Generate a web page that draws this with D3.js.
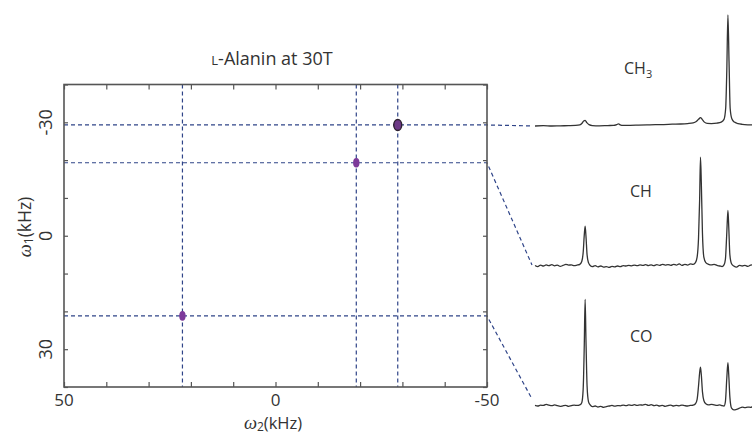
<!DOCTYPE html>
<html>
<head>
<meta charset="utf-8">
<script src="https://cdn.jsdelivr.net/npm/d3@7"></script>
<style>
  html, body { margin: 0; padding: 0; background: #fff; }
  svg { display: block; }
  text { font-family: "Open Sans", "DejaVu Sans", sans-serif; fill: #333; }
</style>
</head>
<body>
<svg id="chart" width="752" height="435"></svg>
<script>
// 2D correlation peaks (kHz)
const sites = ["CH3", "CH", "CO"];
const peakW2 = [-28.9, -19.1, 22.0];
const peakW1 = [-29.3, -19.3, 21.2];

// Axis ticks
const xTicks = [50, 40, 30, 20, 10, 0, -10, -20, -30, -40, -50];
const xLabels = [50, 0, -50];
const yTicks = [-40, -30, -20, -10, 0, 10, 20, 30, 40];
const yLabels = [-30, 0, 30];

// 1D slices along omega2: [omega2 (kHz), intensity]
const ch3Slice = [
  [40, 0], [37, 0.3], [34, 0], [31, 0.2], [28, 0.3], [25.5, 0.5], [24, 1], [23.2, 2.5], [22.6, 4.5],
  [22.1, 5], [21.5, 3], [20.7, 1.2], [19.5, 0.4], [17, 0.2], [14, 0.4], [12, 0.5], [10.8, 1.3],
  [10.2, 2], [9.6, 1], [8.5, 0.5], [6, 0.6], [3, 0.8], [0, 1], [-3, 1.2], [-6, 1.3], [-9, 1.6],
  [-12, 1.8], [-14.5, 2.2], [-16.5, 2.8], [-17.6, 4], [-18.4, 6], [-19.1, 7.5], [-19.7, 6],
  [-20.5, 3.5], [-21.5, 2.3], [-23, 2.2], [-25, 2.6], [-26.5, 3.5], [-27.5, 6], [-28.1, 16],
  [-28.5, 50], [-28.9, 100], [-29.3, 58], [-29.7, 16], [-30.3, 6.5], [-31.2, 3.5], [-32.5, 2.2],
  [-34, 1.5], [-36, 1.1], [-38, 1], [-40, 0.8]
];
const chSlice = [
  [40, 0.5], [39, -0.5], [38, 0.8], [37, 0], [36, 1], [35, 0.3], [34, 1.2], [33, 0.2], [32, 0.8],
  [31, -0.3], [30, 0.5], [29, 1.5], [28, 0.8], [27, 1], [26, 0.3], [25, 0.8], [24, 1.5],
  [23.3, 4], [22.8, 12], [22.4, 28], [22.1, 36], [21.8, 27], [21.4, 10], [20.9, 3], [20.3, 0.5],
  [19.5, -0.5], [18.5, 0.3], [17.5, -0.8], [16.5, 0], [15.5, -1], [14.5, -0.5], [13.5, -1.3],
  [12.5, -0.3], [11.5, -0.8], [10.5, 0], [9.5, -0.5], [8.5, 0.3], [7.5, 0], [6.5, 0.5], [5.5, 0.2],
  [4.5, 0.8], [3.5, 0.3], [2.5, 1], [1.5, 0.5], [0.5, 1.2], [-0.5, 0.4], [-1.5, 1], [-2.5, 0.3],
  [-3.5, 1.2], [-4.5, 0.6], [-5.5, 1.5], [-6.5, 0.8], [-7.5, 1.3], [-8.5, 0.6], [-9.5, 1.5],
  [-10.5, 0.8], [-11.5, 2], [-12.5, 0.5], [-13.5, 1.5], [-14.5, 0.8], [-15.5, 2], [-16.5, 1.5],
  [-17.3, 3], [-17.9, 8], [-18.4, 25], [-18.8, 60], [-19.1, 98], [-19.4, 75], [-19.8, 30],
  [-20.3, 8], [-21, 3], [-22, 1.5], [-23, 1], [-24, 1.5], [-25, 0.5], [-26, 0], [-26.8, -0.5],
  [-27.5, 1], [-28, 6], [-28.5, 30], [-28.9, 50], [-29.2, 35], [-29.6, 10], [-30.2, 2], [-31, 0],
  [-32, -1], [-33, 0.5], [-34, 0], [-35, 0.5], [-36, -0.3], [-37, 0.8], [-38, 1], [-39, 0], [-40, 0.5]
];
const coSlice = [
  [40, 0.5], [39, 0], [38, 0.8], [37, 0.5], [36, 1.5], [35, 0.8], [34, 0.3], [33, 1], [32, 0.3],
  [31, -0.3], [30, 0.2], [29, 0.5], [28, -0.3], [27, 0.3], [26, 0.8], [25, 0.5], [24, 1],
  [23.3, 3], [22.8, 15], [22.4, 55], [22.1, 96], [21.8, 60], [21.4, 18], [20.9, 4], [20.3, 1],
  [19.5, -0.5], [18.5, 0], [17.5, -1], [16.5, -0.3], [15.5, -1.2], [14.5, -0.5], [13.5, 0],
  [12.5, 0.5], [11.5, -0.2], [10.5, 0.3], [9.5, 0.2], [8.5, 0.8], [7.5, 0.3], [6.5, 1], [5.5, 0.5],
  [4.5, 1.2], [3.5, 0.5], [2.5, 1], [1.5, 0.8], [0.5, 1.5], [-0.5, 0.5], [-1.5, 1.2], [-2.5, 0.3],
  [-3.5, 0.8], [-4.5, 0], [-5.5, 0.5], [-6.5, -0.3], [-7.5, 0.3], [-8.5, 0.8], [-9.5, 0],
  [-10.5, 0.5], [-11.5, 0.2], [-12.5, 0.8], [-13.5, 0.3], [-14.5, 0], [-15.5, 0.5], [-16.5, 0.8],
  [-17.3, 2], [-17.9, 6], [-18.4, 18], [-18.8, 30], [-19.1, 35], [-19.4, 28], [-19.8, 13],
  [-20.3, 5], [-21, 2], [-22, 1], [-23, 1.5], [-24, 1], [-25, 0.5], [-26, 1], [-26.8, 0.3],
  [-27.5, 0], [-28, 4], [-28.5, 25], [-28.9, 39], [-29.2, 28], [-29.6, 8], [-30.2, -2],
  [-31, -3.5], [-32, -3], [-33, -2], [-34, -1], [-35, -1.5], [-36, -1], [-37, -1.2], [-38, -0.5],
  [-39, -1], [-40, -0.5]
];
const slices = [ch3Slice, chSlice, coSlice];

const svg = d3.select("#chart");
const dashColor = "#2f4488";
const frameColor = "#555";

// --- 2D contour panel ---
const plot = { left: 64, right: 487, top: 84.5, bottom: 387 };
const x = d3.scaleLinear().domain([50, -50]).range([plot.left, plot.right]);
const y = d3.scaleLinear().domain([-40, 40]).range([plot.top, plot.bottom]);

svg.append("text")
  .attr("x", 272).attr("y", 65).attr("text-anchor", "middle")
  .style("font-size", "18px")
  .call(t => {
    t.append("tspan").style("font-size", "13px").text("L");
    t.append("tspan").text("-Alanin at 30T");
  });

// tick marks pointing inwards on all four sides
const tickStyle = g => {
  g.select(".domain").remove();
  g.selectAll(".tick line").attr("stroke", frameColor).attr("stroke-width", 1.2);
  g.selectAll(".tick text").remove();
};
svg.append("g").attr("transform", `translate(0,${plot.bottom})`)
  .call(d3.axisBottom(x).tickValues(xTicks).tickSize(-5)).call(tickStyle);
svg.append("g").attr("transform", `translate(0,${plot.top})`)
  .call(d3.axisTop(x).tickValues(xTicks).tickSize(-5)).call(tickStyle);
svg.append("g").attr("transform", `translate(${plot.left},0)`)
  .call(d3.axisLeft(y).tickValues(yTicks).tickSize(-4)).call(tickStyle);
svg.append("g").attr("transform", `translate(${plot.right},0)`)
  .call(d3.axisRight(y).tickValues(yTicks).tickSize(-4)).call(tickStyle);

// tick labels
svg.append("g").selectAll("text").data(xLabels).join("text")
  .attr("x", d => x(d)).attr("y", 406).attr("text-anchor", "middle")
  .style("font-size", "17px").text(d => d);
svg.append("g").selectAll("text").data(yLabels).join("text")
  .attr("transform", d => `translate(52,${y(d)}) rotate(-90)`)
  .attr("text-anchor", "middle")
  .style("font-size", "18px").text(d => d);

// axis titles
const omegaLabel = (sel, sub) => {
  sel.append("tspan").style("font-family", "'Liberation Serif', 'DejaVu Serif', serif")
    .style("font-style", "italic").style("font-size", "18.5px").text("ω");
  sel.append("tspan").attr("dy", 2).style("font-size", "12px").text(sub);
  sel.append("tspan").attr("dy", -2).text("(kHz)");
};
svg.append("text").attr("x", 273).attr("y", 429).attr("text-anchor", "middle")
  .style("font-size", "16.5px").call(omegaLabel, "2");
svg.append("text").attr("transform", "translate(31,227) rotate(-90)").attr("text-anchor", "middle")
  .style("font-size", "17.5px").call(omegaLabel, "1");

// --- 1D slices on the right ---
const xs = d3.scaleLinear().domain([40, -40]).range([535, 759]);
const ys = d3.scaleLinear().domain([0, 100]).range([0, -111]);
const baselines = [126, 266, 406];
const sliceLabelPos = [[624, 74], [630, 197], [630, 342]];
const connectorEnd = [[533, 126], [532, 265], [532, 399]];

// guide lines through each peak
const guides = svg.append("g").attr("fill", "none").attr("stroke", dashColor)
  .attr("stroke-width", 1.2).attr("stroke-dasharray", "4,3");
peakW2.forEach(w => {
  guides.append("line").attr("x1", x(w)).attr("x2", x(w)).attr("y1", plot.top).attr("y2", plot.bottom);
});
peakW1.forEach((w, i) => {
  const pts = [[plot.left, y(w)], [plot.right, y(w)], connectorEnd[i]];
  guides.append("path").attr("d", d3.line()(pts));
});

// frame
svg.append("rect")
  .attr("x", plot.left).attr("y", plot.top)
  .attr("width", plot.right - plot.left).attr("height", plot.bottom - plot.top)
  .attr("fill", "none").attr("stroke", frameColor).attr("stroke-width", 1.6);

// cross peaks
svg.append("g").selectAll("ellipse").data(sites).join("ellipse")
  .attr("cx", (d, i) => x(peakW2[i])).attr("cy", (d, i) => y(peakW1[i]))
  .attr("rx", (d, i) => i === 0 ? 4 : 3.2).attr("ry", (d, i) => i === 0 ? 5.5 : 4.8)
  .attr("fill", (d, i) => i === 0 ? "#6e3a86" : "#7d3a9a")
  .attr("stroke", (d, i) => i === 0 ? "#2d2030" : "none").attr("stroke-width", 1.4);

const line = d3.line().x(d => xs(d[0])).y(d => ys(d[1])).curve(d3.curveMonotoneX);
slices.forEach((s, i) => {
  const g = svg.append("g").attr("transform", `translate(0,${baselines[i]})`);
  g.append("path").attr("d", line(s)).attr("fill", "none")
    .attr("stroke", "#333").attr("stroke-width", 1.3).attr("stroke-linejoin", "round");
});

// slice labels
sites.forEach((s, i) => {
  const t = svg.append("text").attr("x", sliceLabelPos[i][0]).attr("y", sliceLabelPos[i][1])
    .style("font-size", "16px");
  if (s === "CH3") {
    t.append("tspan").text("CH");
    t.append("tspan").attr("dy", 4).style("font-size", "11px").text("3");
  } else {
    t.text(s);
  }
});
</script>
</body>
</html>
